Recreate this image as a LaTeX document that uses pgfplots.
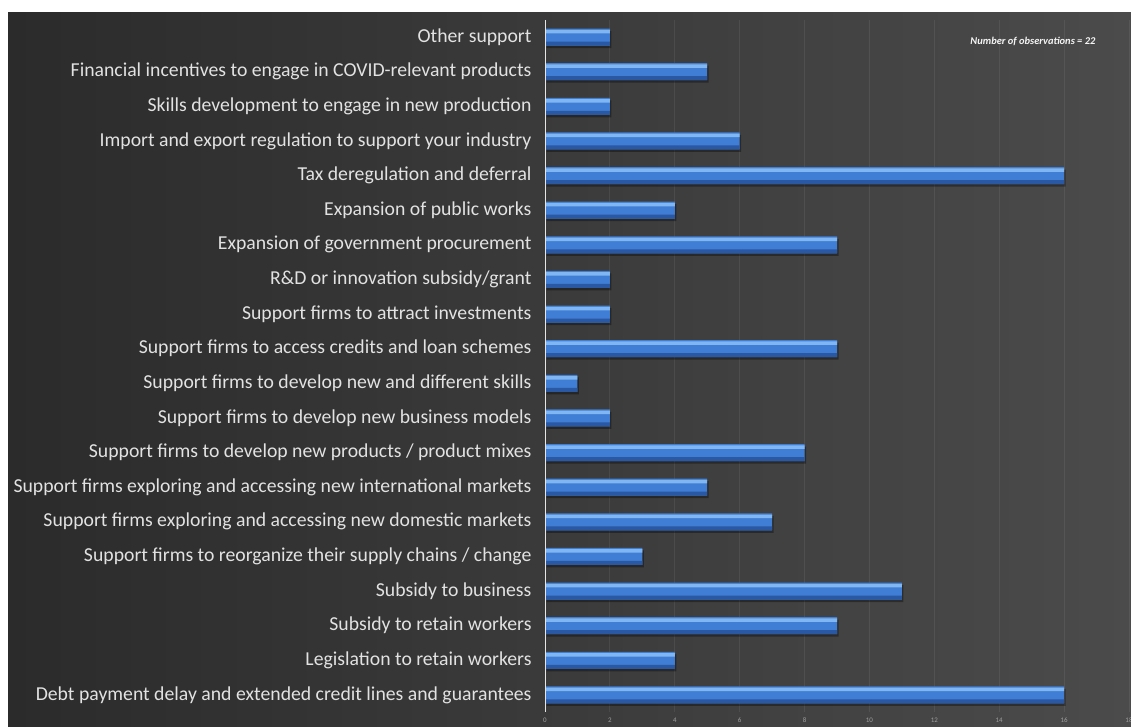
\documentclass[border=0pt]{standalone}
\usepackage{pgfplots}
\pgfplotsset{compat=1.18}
\usepackage{fontspec}
\setmainfont{Carlito}
\definecolor{bgl}{HTML}{2B2B2B}
\definecolor{bgr}{HTML}{4B4B4B}
\definecolor{barhi}{HTML}{80B6F2}
\definecolor{barmid}{HTML}{3F7ED4}
\definecolor{barlo}{HTML}{2A58A2}
\definecolor{labtxt}{HTML}{E2E2E2}

% values, bottom (0) to top (19)
\pgfplotstableread{
y  v
0  16
1  4
2  9
3  11
4  3
5  7
6  5
7  8
8  2
9  1
10 9
11 2
12 2
13 9
14 4
15 16
16 6
17 2
18 5
19 2
}\obs

\begin{document}
\begin{tikzpicture}
\useasboundingbox (0,0) rectangle (1131bp,727bp);
\fill[white] (0,0) rectangle (1131bp,727bp);
\shade[left color=bgl, right color=bgr] (8bp,0) rectangle (1131bp,714bp);
\begin{axis}[
    at={(545bp,14.7bp)}, anchor=south west,
    scale only axis,
    width=584bp, height=692.6bp,
    xmin=0, xmax=18, ymin=-0.5, ymax=19.5,
    xbar, bar width=17bp,
    axis x line*=bottom, axis y line*=left,
    x axis line style={draw=none},
    y axis line style={draw=none},
    major tick length=0pt,
    xtick={0,2,...,18},
    xmajorgrids, grid style={white, opacity=0.07, line width=0.8pt},
    xticklabel style={font=\fontsize{7}{8}\selectfont, text=gray!75, yshift=-2bp},
    ytick={0,...,19},
    yticklabels={
      Debt payment delay and extended credit lines and guarantees,
      Legislation to retain workers,
      Subsidy to retain workers,
      Subsidy to business,
      Support firms to reorganize their supply chains / change,
      Support firms exploring and accessing new domestic markets,
      Support firms exploring and accessing new international markets,
      Support firms to develop new products / product mixes,
      Support firms to develop new business models,
      Support firms to develop new and different skills,
      Support firms to access credits and loan schemes,
      Support firms to attract investments,
      R\&D or innovation subsidy/grant,
      Expansion of government procurement,
      Expansion of public works,
      Tax deregulation and deferral,
      Import and export regulation to support your industry,
      Skills development to engage in new production,
      Financial incentives to engage in COVID-relevant products,
      Other support},
    yticklabel style={font=\fontsize{19.8}{22}\selectfont, text=labtxt, anchor=east, xshift=-10bp},
    /pgf/number format/assume math mode=true,
  ]
  % shadow
  \addplot[draw=none, fill=black, opacity=0.35, bar shift=-2.5bp, xshift=1.5bp] table[x=v, y=y] {\obs};
  % bar body
  \addplot[draw=none, fill=barmid, bar shift=0pt] table[x=v, y=y] {\obs};
  % dark lower edge
  \addplot[draw=none, fill=barlo, bar width=4bp, bar shift=-6.5bp] table[x=v, y=y] {\obs};
  % light upper edge
  \addplot[draw=none, fill=barhi, bar width=3.5bp, bar shift=5.5bp] table[x=v, y=y] {\obs};
  \draw[white!80!gray, line width=1.2pt] (axis cs:0,-0.5) -- (axis cs:0,19.5);
  \node[font=\fontsize{10.5}{12}\selectfont\itshape\bfseries, text=white!92!gray] at (axis cs:15.04,18.86) {Number of observations = 22};
\end{axis}
\end{tikzpicture}
\end{document}
